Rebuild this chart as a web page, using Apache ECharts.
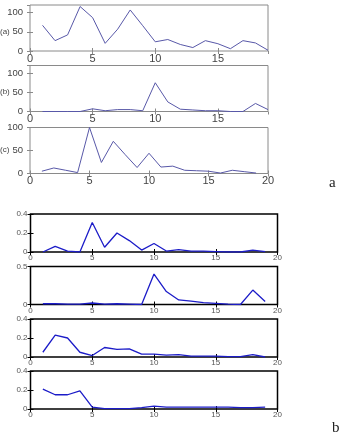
<!DOCTYPE html>
<html>
<head>
<meta charset="UTF-8">
<script src="https://cdn.jsdelivr.net/npm/echarts@6.0.0/dist/echarts.min.js"></script>
<style>
  html, body { margin: 0; padding: 0; background: #fff; }
  #main { width: 352px; height: 434px; }
</style>
</head>
<body>
<div id="main"></div>
<script>
// sample index (x axis)
const xs = [1,2,3,4,5,6,7,8,9,10,11,12,13,14,15,16,17,18,19];

// group a: three curves
const aA = [67,27,42,116,87,20,57,107,66,24,30,17,9,27,19,6,27,21,2];
const aB = [0,0,0,0,7,2,5,5,2,75,25,6,4,2,2,0,0,21,5];
const aC = [5,12,7,2,100,24,70,41,13,44,14,16,7,6,5,1,7,4,1];

// group b: four curves
const b1 = [0,0.06,0.01,0,0.31,0.05,0.2,0.12,0.02,0.09,0.01,0.025,0.01,0.01,0.005,0,0,0.02,0.005];
const b2 = [0.01,0.01,0.005,0.005,0.02,0.005,0.01,0.005,0,0.40,0.17,0.06,0.045,0.025,0.015,0.005,0,0.19,0.04];
const b3 = [0.05,0.23,0.2,0.05,0.015,0.1,0.08,0.085,0.03,0.03,0.02,0.025,0.01,0.01,0.01,0.005,0.005,0.025,0];
const b4 = [0.21,0.15,0.15,0.19,0.02,0.005,0.005,0.005,0.015,0.03,0.02,0.02,0.02,0.02,0.02,0.02,0.015,0.015,0.02];

const panelLabels = ['(a)', '(b)', '(c)'];

// panel setup: data, axis ranges, position
const panels = [
  { data: aA, xMax: 19, yMax: 120, yInt: 50, top: 5,     h: 46, left: 30,   w: 238, grp: 'a' },
  { data: aB, xMax: 19, yMax: 120, yInt: 50, top: 65.5,  h: 46, left: 30,   w: 238, grp: 'a' },
  { data: aC, xMax: 20, yMax: 100, yInt: 50, top: 127.5, h: 46, left: 30,   w: 238, grp: 'a' },
  { data: b1, xMax: 20, yMax: 0.4, yInt: 0.2, top: 214,  h: 38, left: 30.5, w: 247, grp: 'b' },
  { data: b2, xMax: 20, yMax: 0.5, yInt: 0.5, top: 266.5, h: 38, left: 30.5, w: 247, grp: 'b' },
  { data: b3, xMax: 20, yMax: 0.4, yInt: 0.2, top: 319,  h: 38, left: 30.5, w: 247, grp: 'b' },
  { data: b4, xMax: 20, yMax: 0.4, yInt: 0.2, top: 371,  h: 38, left: 30.5, w: 247, grp: 'b' }
];

const chart = echarts.init(document.getElementById('main'));

const grid = [], xAxis = [], yAxis = [], series = [];

panels.forEach((p, i) => {
  const isA = p.grp === 'a';
  const frame = isA ? '#8a8a8a' : '#000';
  const lw = isA ? 1 : 1.5;
  const lab = isA
    ? { fontSize: 11, color: '#444', fontFamily: 'Liberation Sans, Arial' }
    : { fontSize: 8, color: '#555', fontFamily: 'Liberation Sans, Arial' };

  grid.push({
    left: p.left, top: p.top, width: p.w, height: p.h,
    show: true, borderColor: frame, borderWidth: lw, backgroundColor: '#fff'
  });

  const tick = { show: true, inside: true, length: 3, lineStyle: { color: frame, width: 1 } };

  // bottom x axis with labels
  xAxis.push({
    type: 'value', gridIndex: i, min: 0, max: p.xMax, interval: 5,
    axisLine: { show: false }, splitLine: { show: false }, axisTick: tick,
    axisLabel: Object.assign({ margin: 2, showMaxLabel: p.xMax === 20 }, lab)
  });
  // top x axis, ticks only
  xAxis.push({
    type: 'value', gridIndex: i, position: 'top', min: 0, max: p.xMax, interval: 5,
    axisLine: { show: false }, splitLine: { show: false }, axisTick: tick,
    axisLabel: { show: false }
  });
  // left y axis with labels
  yAxis.push({
    type: 'value', gridIndex: i, min: 0, max: p.yMax, interval: p.yInt,
    axisLine: { show: false }, splitLine: { show: false }, axisTick: tick,
    axisLabel: Object.assign({ margin: isA ? 7 : 3, showMaxLabel: p.yMax !== 120 }, lab,
      isA ? { fontSize: 9.5 } : {})
  });
  // right y axis, ticks only
  yAxis.push({
    type: 'value', gridIndex: i, position: 'right', min: 0, max: p.yMax, interval: p.yInt,
    axisLine: { show: false }, splitLine: { show: false }, axisTick: tick,
    axisLabel: { show: false }
  });

  series.push({
    type: 'line',
    xAxisIndex: i * 2, yAxisIndex: i * 2,
    data: xs.map((x, k) => [x, p.data[k]]),
    showSymbol: false,
    lineStyle: { color: isA ? '#5858a8' : '#1c1cc8', width: isA ? 1 : 1.3 },
    animation: false
  });
});

// "(a)" etc. sit beside the 50 tick label
const graphic = panelLabels.map((t, i) => {
  const p = panels[i];
  const y50 = p.top + p.h - (50 / p.yMax) * p.h;
  return {
    type: 'text', left: 0, top: y50 - 4.5,
    style: { text: t, fontSize: 8, fill: '#444', fontFamily: 'Liberation Sans, Arial' }
  };
});
graphic.push({
  type: 'text', left: 329, top: 176,
  style: { text: 'a', fontSize: 15, fill: '#222', fontFamily: 'Liberation Serif, serif' }
});
graphic.push({
  type: 'text', left: 332, top: 421,
  style: { text: 'b', fontSize: 15, fill: '#222', fontFamily: 'Liberation Serif, serif' }
});

chart.setOption({
  animation: false,
  grid: grid,
  xAxis: xAxis,
  yAxis: yAxis,
  series: series,
  graphic: graphic
});
</script>
</body>
</html>
